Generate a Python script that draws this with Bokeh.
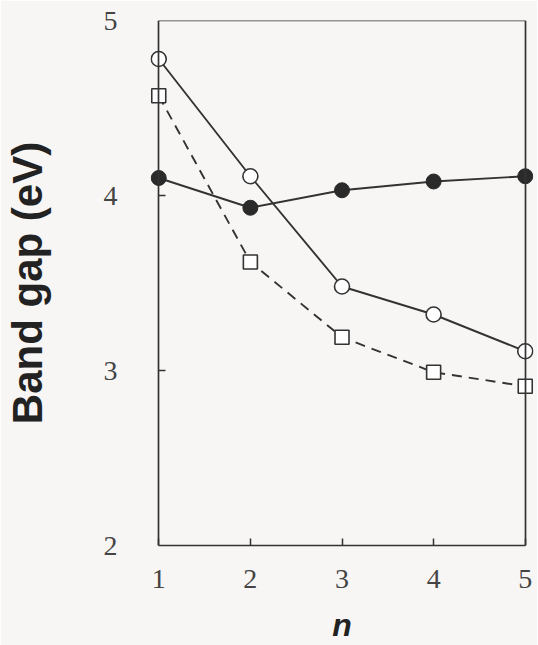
from bokeh.plotting import figure
from bokeh.models import FixedTicker, Range1d, LinearAxis
from bokeh.embed import file_html
from bokeh.resources import INLINE

n = [1, 2, 3, 4, 5]
open_circles = [4.78, 4.11, 3.48, 3.32, 3.11]
filled_circles = [4.10, 3.93, 4.03, 4.08, 4.11]
open_squares = [4.57, 3.62, 3.19, 2.99, 2.91]
x_ticks = [1, 2, 3, 4, 5]
y_ticks = [2, 3, 4, 5]

INK = "#333333"
BG = "#f7f6f5"

p = figure(width=537, height=645, output_backend="svg", toolbar_location=None,
           x_range=Range1d(0.91, 5.09), y_range=Range1d(2, 5),
           min_border_left=147, min_border_right=4, min_border_top=20, min_border_bottom=99)
p.background_fill_color = BG
p.border_fill_color = BG
p.grid.visible = False
p.outline_line_color = None

# bottom axis (sits on the frame's lower edge)
xa = p.xaxis[0]
xa.ticker = FixedTicker(ticks=x_ticks)
xa.bounds = (x_ticks[0], x_ticks[-1])
xa.axis_line_color = INK
xa.axis_line_width = 1.7
xa.major_tick_in = 7
xa.major_tick_out = 0
xa.major_tick_line_color = INK
xa.major_tick_line_width = 1.5
xa.minor_tick_line_color = None
xa.major_label_text_font = "Liberation Serif"
xa.major_label_text_font_size = "28px"
xa.major_label_text_color = "#444444"
xa.major_label_standoff = 24
xa.axis_label = "n"
xa.axis_label_text_font = "Liberation Sans"
xa.axis_label_text_font_style = "bold italic"
xa.axis_label_text_font_size = "32px"
xa.axis_label_text_color = "#222222"
xa.axis_label_standoff = 16

# left axis: labels only (frame edge)
ya = p.yaxis[0]
ya.ticker = FixedTicker(ticks=y_ticks)
ya.axis_line_color = None
ya.major_tick_line_color = None
ya.minor_tick_line_color = None
ya.major_label_text_font = "Liberation Serif"
ya.major_label_text_font_size = "28px"
ya.major_label_text_color = "#444444"
ya.major_label_standoff = 27
ya.axis_label = "Band gap (eV)"
ya.axis_label_text_font = "Liberation Sans"
ya.axis_label_text_font_style = "bold"
ya.axis_label_text_font_size = "42px"
ya.axis_label_text_color = "#222222"
ya.axis_label_standoff = 50

# left frame line with inward ticks at n = 1
inner = y_ticks[1:-1]
left_line = LinearAxis(ticker=FixedTicker(ticks=inner), fixed_location=x_ticks[0],
                       bounds=(y_ticks[0], y_ticks[-1]),
                       axis_line_color=INK, axis_line_width=1.7,
                       major_tick_in=7, major_tick_out=0, major_tick_line_color=INK,
                       major_tick_line_width=1.5, minor_tick_line_color=None,
                       major_label_overrides={t: "" for t in inner})
# closing frame lines (right and top), no ticks or labels
right_ax = LinearAxis(ticker=FixedTicker(ticks=[]), fixed_location=x_ticks[-1],
                      bounds=(y_ticks[0], y_ticks[-1]),
                      axis_line_color=INK, axis_line_width=1.7,
                      major_tick_line_color=None, minor_tick_line_color=None)
top_ax = LinearAxis(ticker=FixedTicker(ticks=[]), fixed_location=y_ticks[-1],
                    bounds=(x_ticks[0], x_ticks[-1]),
                    axis_line_color=INK, axis_line_width=1.7,
                    major_tick_line_color=None, minor_tick_line_color=None)
p.add_layout(left_line, "left")
p.add_layout(right_ax, "right")
p.add_layout(top_ax, "above")

p.line(n, open_squares, line_color=INK, line_width=1.9, line_dash="10 7")
p.line(n, open_circles, line_color=INK, line_width=1.9)
p.line(n, filled_circles, line_color=INK, line_width=1.9)
p.scatter(n, open_squares, marker="square", size=14, fill_color="white", line_color=INK, line_width=1.6)
p.scatter(n, open_circles, marker="circle", size=15, fill_color="white", line_color=INK, line_width=1.6)
p.scatter(n, filled_circles, marker="circle", size=15, fill_color="#2a2a2a", line_color="#2a2a2a", line_width=1.0)

open("out.html", "w").write(file_html(p, INLINE))
